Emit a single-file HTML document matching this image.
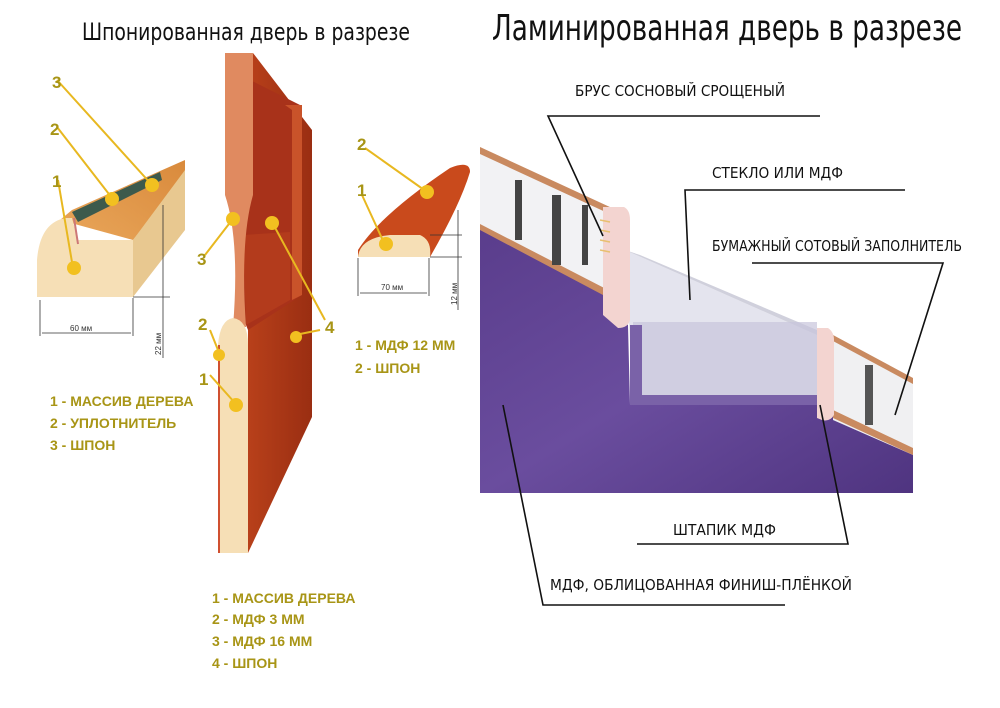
<!DOCTYPE html>
<html><head><meta charset="utf-8"><style>
html,body{margin:0;padding:0;background:#fff;}
svg{display:block;}
.t{font-family:"DejaVu Sans","Liberation Sans",sans-serif;fill:#111;}
.lg{font-family:"Liberation Sans",sans-serif;font-weight:bold;fill:#a89516;font-size:14px;}
</style></head><body>
<svg width="1000" height="708" viewBox="0 0 1000 708" xmlns="http://www.w3.org/2000/svg">
<defs>
<linearGradient id="pur" x1="0" y1="0" x2="1" y2="1"><stop offset="0" stop-color="#5a3d8c"/><stop offset="0.5" stop-color="#6a4d9e"/><stop offset="1" stop-color="#4f3480"/></linearGradient>
<linearGradient id="red" x1="0" y1="0" x2="1" y2="0"><stop offset="0" stop-color="#b8401a"/><stop offset="1" stop-color="#9a2e12"/></linearGradient>
<linearGradient id="orn" x1="0" y1="1" x2="1" y2="0"><stop offset="0" stop-color="#e9a65a"/><stop offset="1" stop-color="#d98a3c"/></linearGradient>
</defs>

<!-- titles -->
<text class="t" x="82" y="40" font-size="24" textLength="328" lengthAdjust="spacingAndGlyphs">Шпонированная дверь в разрезе</text>
<text class="t" x="492" y="40" font-size="36" textLength="470" lengthAdjust="spacingAndGlyphs">Ламинированная дверь в разрезе</text>

<!-- ===== left bar profile ===== -->
<polygon points="72,210 185,160 185,175 133,240 60,220" fill="url(#orn)"/>
<polygon points="72,212 160,172 162,180 78,222" fill="#3d5a4c"/>
<polygon points="133,240 185,170 185,230 133,297" fill="#e8c890"/>
<path d="M37,297 L37,260 Q40,222 66,218 L72,218 L78,240 L133,240 L133,297 Z" fill="#f6dfb6"/>
<line x1="74" y1="218" x2="78" y2="244" stroke="#c77" stroke-width="2"/>
<g stroke="#333" stroke-width="0.8" fill="none">
<line x1="40" y1="300" x2="40" y2="336"/><line x1="133" y1="298" x2="133" y2="336"/>
<line x1="42" y1="333" x2="131" y2="333"/>
<line x1="163" y1="205" x2="163" y2="358"/><line x1="133" y1="297" x2="170" y2="297"/>
</g>
<text x="70" y="331" font-size="8" font-family="Liberation Sans,sans-serif" fill="#333">60 мм</text>
<text transform="translate(161,355) rotate(-90)" font-size="8" font-family="Liberation Sans,sans-serif" fill="#333">22 мм</text>

<!-- ===== center door ===== -->
<polygon points="253,53 312,130 312,417 248,553 248,330" fill="url(#red)"/>
<polygon points="240,75 300,105 302,295 248,330 240,310" fill="#a8321a"/>
<polygon points="285,105 302,105 302,295 292,300 292,110" fill="#c9532a"/>
<polygon points="243,235 290,232 290,300 246,325" fill="#b33b1c"/>
<path d="M225,53 L253,53 L253,195 Q240,240 246,327 L233,327 Q240,240 225,195 Z" fill="#e08a60"/>
<path d="M218,553 L218,345 Q220,320 233,318 Q248,320 248,345 L248,553 Z" fill="#f6dfb6"/>
<line x1="219" y1="345" x2="219" y2="553" stroke="#d05030" stroke-width="2"/>

<!-- ===== right small profile ===== -->
<path d="M358,250 Q380,215 450,168 Q470,160 470,172 Q460,205 430,257 L358,257 Z" fill="#c94a1c"/>
<path d="M358,257 Q360,238 390,235 L420,235 Q432,240 430,257 Z" fill="#f6dfb6"/>
<g stroke="#333" stroke-width="0.8" fill="none">
<line x1="358" y1="258" x2="358" y2="296"/><line x1="429" y1="258" x2="429" y2="296"/>
<line x1="360" y1="293" x2="427" y2="293"/>
<line x1="430" y1="235" x2="462" y2="235"/><line x1="430" y1="257" x2="462" y2="257"/>
<line x1="458" y1="210" x2="458" y2="310"/>
</g>
<text x="381" y="290" font-size="8" font-family="Liberation Sans,sans-serif" fill="#333">70 мм</text>
<text transform="translate(457,305) rotate(-90)" font-size="8" font-family="Liberation Sans,sans-serif" fill="#333">12 мм</text>

<!-- yellow leaders -->
<g stroke="#e8b820" stroke-width="2" fill="none">
<line x1="57" y1="80" x2="152" y2="185"/>
<line x1="57" y1="127" x2="112" y2="198"/>
<line x1="58" y1="180" x2="73" y2="268"/>
<line x1="205" y1="255" x2="232" y2="220"/>
<line x1="210" y1="330" x2="220" y2="355"/>
<line x1="210" y1="375" x2="235" y2="403"/>
<line x1="272" y1="222" x2="325" y2="320"/>
<line x1="295" y1="335" x2="320" y2="330"/>
<line x1="365" y1="148" x2="427" y2="192"/>
<line x1="362" y1="195" x2="385" y2="245"/>
</g>
<g fill="#f2c020">
<circle cx="152" cy="185" r="7"/><circle cx="112" cy="199" r="7"/><circle cx="74" cy="268" r="7"/>
<circle cx="233" cy="219" r="7"/><circle cx="272" cy="223" r="7"/><circle cx="219" cy="355" r="6"/>
<circle cx="236" cy="405" r="7"/><circle cx="296" cy="337" r="6"/>
<circle cx="427" cy="192" r="7"/><circle cx="386" cy="244" r="7"/>
</g>
<g class="lg" style="font-size:17px">
<text x="52" y="88">3</text><text x="50" y="135">2</text><text x="52" y="187">1</text>
<text x="197" y="265">3</text><text x="198" y="330">2</text><text x="199" y="385">1</text>
<text x="325" y="333">4</text><text x="357" y="150">2</text><text x="357" y="196">1</text>
</g>

<!-- legends -->
<g class="lg">
<text x="50" y="406">1 - МАССИВ ДЕРЕВА</text>
<text x="50" y="428">2 - УПЛОТНИТЕЛЬ</text>
<text x="50" y="450">3 - ШПОН</text>
<text x="212" y="603">1 - МАССИВ ДЕРЕВА</text>
<text x="212" y="624">2 - МДФ 3 ММ</text>
<text x="212" y="646">3 - МДФ 16 ММ</text>
<text x="212" y="668">4 - ШПОН</text>
<text x="355" y="350">1 - МДФ 12 ММ</text>
<text x="355" y="373">2 - ШПОН</text>
</g>

<!-- ===== laminated door ===== -->
<!-- top band interior -->
<polygon points="480,147 612,208 612,315 480,230" fill="#f2f2f4"/>
<polygon points="480,147 612,208 612,215 480,154" fill="#c98a60"/>
<polygon points="480,224 612,292 612,300 480,232" fill="#c98a60"/>
<g fill="#444"><rect x="515" y="180" width="7" height="60"/><rect x="552" y="195" width="9" height="70"/><rect x="582" y="205" width="6" height="60"/></g>
<!-- glass -->
<polygon points="625,250 817,335 817,400 633,400" fill="#e4e4ee"/>
<polygon points="625,250 817,335 817,330 640,255" fill="#d0d0dc"/>
<rect x="633" y="322" width="184" height="78" fill="#c8c4dc" opacity="0.7"/>
<!-- purple -->
<polygon points="480,230 603,295 628,325 630,405 817,405 913,452 913,493 480,493" fill="url(#pur)"/>
<polygon points="630,325 642,325 642,395 817,395 817,405 630,405" fill="#7a62a8"/>
<!-- brus -->
<path d="M603,207 L624,207 Q630,210 630,220 L630,320 Q628,328 618,328 L603,315 Z" fill="#f3d4d0"/>
<g stroke="#e8c070" stroke-width="1.5"><line x1="600" y1="220" x2="610" y2="222"/><line x1="600" y1="230" x2="610" y2="232"/><line x1="600" y1="240" x2="610" y2="242"/><line x1="600" y1="250" x2="610" y2="252"/></g>
<!-- right band -->
<polygon points="833,335 913,378 913,455 833,420" fill="#f0f0f2"/>
<polygon points="833,335 913,378 913,384 833,341" fill="#c98a60"/>
<polygon points="833,410 913,448 913,455 833,418" fill="#c98a60"/>
<rect x="865" y="365" width="8" height="60" fill="#555"/>
<path d="M817,328 L828,328 Q834,332 834,340 L834,415 Q830,422 822,420 L817,418 Z" fill="#f3d4d0"/>
<!-- labels -->
<g class="t" font-size="15">
<text x="575" y="96" textLength="210" lengthAdjust="spacingAndGlyphs">БРУС СОСНОВЫЙ СРОЩЕНЫЙ</text>
<text x="712" y="178" textLength="131" lengthAdjust="spacingAndGlyphs">СТЕКЛО ИЛИ МДФ</text>
<text x="712" y="251" textLength="250" lengthAdjust="spacingAndGlyphs">БУМАЖНЫЙ СОТОВЫЙ ЗАПОЛНИТЕЛЬ</text>
<text x="673" y="535" textLength="103" lengthAdjust="spacingAndGlyphs">ШТАПИК МДФ</text>
<text x="550" y="590" textLength="302" lengthAdjust="spacingAndGlyphs">МДФ, ОБЛИЦОВАННАЯ ФИНИШ-ПЛЁНКОЙ</text>
</g>
<g stroke="#111" stroke-width="1.6" fill="none">
<polyline points="820,116 548,116 603,236"/>
<polyline points="905,190 685,190 690,300"/>
<polyline points="752,263 943,263 895,415"/>
<polyline points="637,544 848,544 820,405"/>
<polyline points="785,605 543,605 503,405"/>
</g>
</svg>
</body></html>
